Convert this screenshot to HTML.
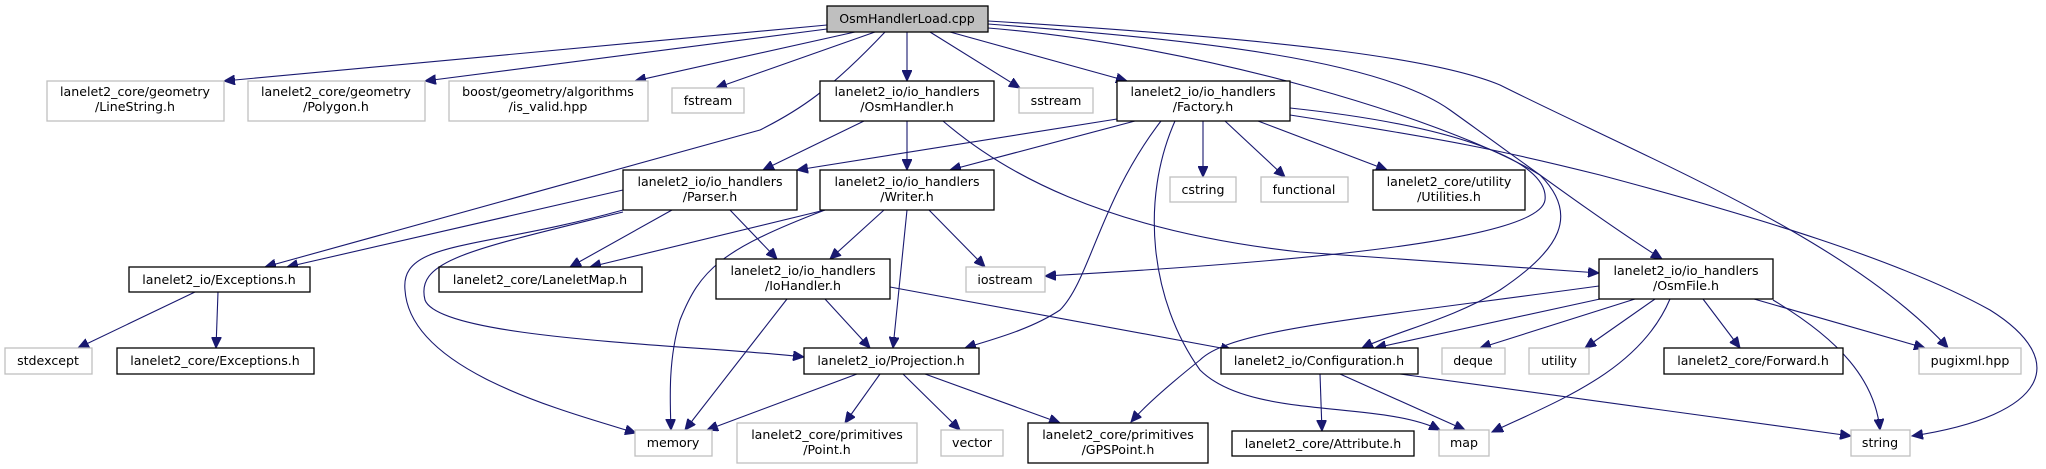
<!DOCTYPE html>
<html><head><meta charset="utf-8"><style>
html,body{margin:0;padding:0;background:#fff}
svg{display:block}
text{font-family:"DejaVu Sans","Liberation Sans",sans-serif;font-size:12.6px;fill:#000;text-anchor:middle}
.n{fill:#fff;stroke:#000;stroke-width:1.3}
.g{fill:#fff;stroke:#bfbfbf;stroke-width:1.3}
.e{fill:none;stroke:#191970;stroke-width:1.1}
</style></head><body>
<svg width="2046" height="469" viewBox="0 0 2046 469" xmlns="http://www.w3.org/2000/svg">
<defs><marker id="a" markerWidth="12" markerHeight="10" refX="11" refY="5" orient="auto" markerUnits="userSpaceOnUse"><path d="M0,0 L11,5 L0,10 z" fill="#191970" stroke="#191970"/></marker></defs>
<g class="e" marker-end="url(#a)">
<path d="M827,25 L224,81"/>
<path d="M827,29 L425,81"/>
<path d="M855,32 L635,81"/>
<path d="M875,32 L716,88"/>
<path d="M885,32 C830,90 800,110 760,130 L265,267"/>
<path d="M907,32 L907,81"/>
<path d="M930,32 L1020,88"/>
<path d="M950,32 L1127,81"/>
<path d="M988,28 C1200,45 1450,120 1540,175 C1580,215 1560,250 1500,290 C1450,320 1400,330 1362,348"/>
<path d="M988,24 C1200,40 1380,60 1450,110 C1520,160 1600,220 1662,259"/>
<path d="M988,21 C1300,40 1440,60 1500,85 C1650,160 1850,240 1948,348"/>
<path d="M864,121 L763,170"/>
<path d="M907,121 L907,170"/>
<path d="M943,121 C1000,170 1100,230 1300,252 L1599,273"/>
<path d="M1117,119 L797,170"/>
<path d="M1135,121 L950,170"/>
<path d="M1161,121 C1100,200 1090,280 1060,310 C1030,330 990,340 965,348"/>
<path d="M1175,121 C1140,200 1150,300 1200,370 C1250,420 1380,400 1440,430"/>
<path d="M1203,121 L1203,177"/>
<path d="M1225,121 L1285,177"/>
<path d="M1258,121 L1387,170"/>
<path d="M1290,108 C1450,125 1550,160 1545,200 C1540,240 1300,262 1045,276"/>
<path d="M1290,115 C1450,140 1500,150 1600,175 C1750,215 1900,260 1990,310 C2070,360 2050,415 1912,436"/>
<path d="M623,190 L287,267"/>
<path d="M672,210 L570,267"/>
<path d="M730,210 L777,259"/>
<path d="M623,210 C480,250 400,240 405,290 C410,370 560,410 636,433"/>
<path d="M623,212 C470,250 415,260 425,300 C440,340 700,345 804,357"/>
<path d="M825,210 L590,267"/>
<path d="M884,210 L830,259"/>
<path d="M907,210 L893,348"/>
<path d="M929,210 L985,267"/>
<path d="M825,210 C720,250 700,270 680,320 C668,360 670,400 671,430"/>
<path d="M787,299 L685,430"/>
<path d="M825,299 L870,348"/>
<path d="M890,287 L1232,350"/>
<path d="M195,292 L78,348"/>
<path d="M218,292 L216,348"/>
<path d="M857,374 L707,430"/>
<path d="M880,374 L845,423"/>
<path d="M903,374 L960,430"/>
<path d="M925,374 L1060,423"/>
<path d="M1320,374 L1322,431"/>
<path d="M1340,374 L1465,430"/>
<path d="M1400,374 L1851,436"/>
<path d="M1599,286 C1350,320 1230,330 1200,360 Q1150,400 1131,422"/>
<path d="M1600,299 L1375,348"/>
<path d="M1635,299 L1480,348"/>
<path d="M1655,299 L1585,348"/>
<path d="M1670,299 C1640,370 1560,400 1492,432"/>
<path d="M1703,299 L1740,348"/>
<path d="M1754,299 L1925,348"/>
<path d="M1773,300 C1840,340 1875,380 1880,430"/>
</g>
<rect x="827" y="6" width="161" height="26" fill="#bfbfbf" stroke="#000" stroke-width="1.3"/><text x="907" y="23">OsmHandlerLoad.cpp</text>
<rect class="g" x="47" y="81" width="177" height="40"/><text x="135" y="96">lanelet2_core/geometry</text><text x="135" y="111">/LineString.h</text>
<rect class="g" x="248" y="81" width="177" height="40"/><text x="336" y="96">lanelet2_core/geometry</text><text x="336" y="111">/Polygon.h</text>
<rect class="g" x="449" y="81" width="199" height="40"/><text x="548" y="96">boost/geometry/algorithms</text><text x="548" y="111">/is_valid.hpp</text>
<rect class="g" x="672" y="88" width="72" height="25"/><text x="708" y="105">fstream</text>
<rect class="n" x="820" y="81" width="174" height="40"/><text x="907" y="96">lanelet2_io/io_handlers</text><text x="907" y="111">/OsmHandler.h</text>
<rect class="g" x="1019" y="88" width="74" height="25"/><text x="1056" y="105">sstream</text>
<rect class="n" x="1117" y="81" width="173" height="40"/><text x="1203" y="96">lanelet2_io/io_handlers</text><text x="1203" y="111">/Factory.h</text>
<rect class="n" x="623" y="170" width="174" height="40"/><text x="710" y="186">lanelet2_io/io_handlers</text><text x="710" y="201">/Parser.h</text>
<rect class="n" x="820" y="170" width="174" height="40"/><text x="907" y="186">lanelet2_io/io_handlers</text><text x="907" y="201">/Writer.h</text>
<rect class="g" x="1170" y="177" width="66" height="25"/><text x="1203" y="194">cstring</text>
<rect class="g" x="1261" y="177" width="87" height="25"/><text x="1304" y="194">functional</text>
<rect class="n" x="1373" y="170" width="152" height="40"/><text x="1449" y="186">lanelet2_core/utility</text><text x="1449" y="201">/Utilities.h</text>
<rect class="n" x="129" y="267" width="181" height="25"/><text x="219" y="284">lanelet2_io/Exceptions.h</text>
<rect class="n" x="439" y="267" width="203" height="25"/><text x="540" y="284">lanelet2_core/LaneletMap.h</text>
<rect class="n" x="716" y="259" width="174" height="40"/><text x="803" y="275">lanelet2_io/io_handlers</text><text x="803" y="290">/IoHandler.h</text>
<rect class="g" x="966" y="267" width="79" height="25"/><text x="1005" y="284">iostream</text>
<rect class="n" x="1599" y="259" width="174" height="40"/><text x="1686" y="275">lanelet2_io/io_handlers</text><text x="1686" y="290">/OsmFile.h</text>
<rect class="g" x="5" y="348" width="87" height="26"/><text x="48" y="365">stdexcept</text>
<rect class="n" x="117" y="348" width="197" height="26"/><text x="215" y="365">lanelet2_core/Exceptions.h</text>
<rect class="n" x="804" y="348" width="175" height="26"/><text x="891" y="365">lanelet2_io/Projection.h</text>
<rect class="n" x="1221" y="348" width="197" height="26"/><text x="1319" y="365">lanelet2_io/Configuration.h</text>
<rect class="g" x="1442" y="348" width="63" height="26"/><text x="1473" y="365">deque</text>
<rect class="g" x="1529" y="348" width="60" height="26"/><text x="1559" y="365">utility</text>
<rect class="n" x="1664" y="348" width="179" height="26"/><text x="1753" y="365">lanelet2_core/Forward.h</text>
<rect class="g" x="1919" y="348" width="102" height="26"/><text x="1970" y="365">pugixml.hpp</text>
<rect class="g" x="635" y="430" width="77" height="26"/><text x="673" y="447">memory</text>
<rect class="g" x="737" y="423" width="180" height="40"/><text x="827" y="439">lanelet2_core/primitives</text><text x="827" y="454">/Point.h</text>
<rect class="g" x="941" y="430" width="62" height="26"/><text x="972" y="447">vector</text>
<rect class="n" x="1028" y="423" width="180" height="40"/><text x="1118" y="439">lanelet2_core/primitives</text><text x="1118" y="454">/GPSPoint.h</text>
<rect class="n" x="1232" y="431" width="182" height="25"/><text x="1323" y="448">lanelet2_core/Attribute.h</text>
<rect class="g" x="1439" y="430" width="50" height="26"/><text x="1464" y="447">map</text>
<rect class="g" x="1851" y="430" width="59" height="26"/><text x="1880" y="447">string</text>
</svg>
</body></html>
